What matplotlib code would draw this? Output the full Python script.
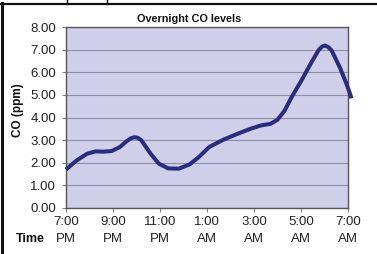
import matplotlib
matplotlib.use("Agg")
import matplotlib.pyplot as plt
from matplotlib.lines import Line2D

# Hours after 7:00 PM and CO readings (ppm)
hours = [0, 0.45, 0.9, 1.25, 1.6, 1.95, 2.3, 2.6, 2.78, 2.92, 3.06, 3.2, 3.6, 3.95,
         4.35, 4.8, 5.25, 5.65, 6.1, 6.7, 7.3, 7.85, 8.3, 8.7, 9.0, 9.3, 9.6, 10.0,
         10.45, 10.75, 10.9, 11.02, 11.15, 11.3, 11.65, 11.95, 12.15]
co_ppm = [1.70, 2.10, 2.40, 2.50, 2.49, 2.52, 2.70, 2.97, 3.09, 3.13, 3.10, 3.00,
          2.40, 1.96, 1.75, 1.74, 1.92, 2.25, 2.70, 3.02, 3.28, 3.50, 3.65, 3.72,
          3.90, 4.30, 4.90, 5.60, 6.45, 6.98, 7.14, 7.18, 7.12, 6.97, 6.22, 5.45,
          4.85]

tick_hours = [0, 2, 4, 6, 8, 10, 12]
tick_labels = ["7:00\nPM", "9:00\nPM", "11:00\nPM", "1:00\nAM", "3:00\nAM", "5:00\nAM", "7:00\nAM"]
y_ticks = [0, 1, 2, 3, 4, 5, 6, 7, 8]

plt.rcParams['font.family'] = ['Liberation Sans', 'DejaVu Sans']

W, H = 377, 254
fig = plt.figure(figsize=(W / 100, H / 100), dpi=100)
fig.patch.set_facecolor('white')

L, R, T, B = 66, 348, 27, 208
ax = fig.add_axes([L / W, 1 - B / H, (R - L) / W, (B - T) / H])
ax.set_facecolor('#CFCFEA')

ax.plot(hours, co_ppm, color='#2A2C7E', lw=2.9, solid_joinstyle='round',
        solid_capstyle='butt', clip_on=False, zorder=5)

ax.set_xlim(0, 12)
ax.set_ylim(0, 8)
ax.set_yticks(y_ticks)
ax.set_yticklabels([f"{v:.2f}" for v in y_ticks])
ax.set_xticks(tick_hours)
ax.set_xticklabels(tick_labels, linespacing=1.5)
ax.grid(axis='y', color='#8E8E9E', lw=0.8)
ax.set_axisbelow(True)
for s in ax.spines.values():
    s.set_color('#555555')
    s.set_linewidth(1.0)
ax.tick_params(axis='both', length=3, width=0.8, color='#888888', labelsize=9.5,
               labelcolor='#222222')
ax.tick_params(axis='y', pad=4)
ax.tick_params(axis='x', pad=3)

fig.text(189 / W, 1 - 19 / H, "Overnight CO levels", ha='center', va='center',
         fontsize=7.8, fontweight='bold', color='#111111')
fig.text(18 / W, 1 - 110 / H, "CO (ppm)", ha='center', va='center', rotation=90,
         fontsize=8.5, fontweight='bold', color='#111111')
fig.text(30 / W, 1 - 239 / H, "Time", ha='center', va='center',
         fontsize=9, fontweight='bold', color='#111111')

# screenshot frame lines
fig.add_artist(Line2D([1.5 / W, 1.5 / W], [0, 1 - 3 / H], color='#111111', lw=2.2,
                      transform=fig.transFigure))
fig.add_artist(Line2D([0, 1], [1 - 4 / H, 1 - 4 / H], color='#111111', lw=1.6,
                      transform=fig.transFigure))
for xp in (67, 107):
    fig.add_artist(Line2D([xp / W, xp / W], [1 - 4 / H, 1], color='#111111', lw=1.0,
                          transform=fig.transFigure))

fig.savefig("out.png", dpi=100, facecolor='white')
